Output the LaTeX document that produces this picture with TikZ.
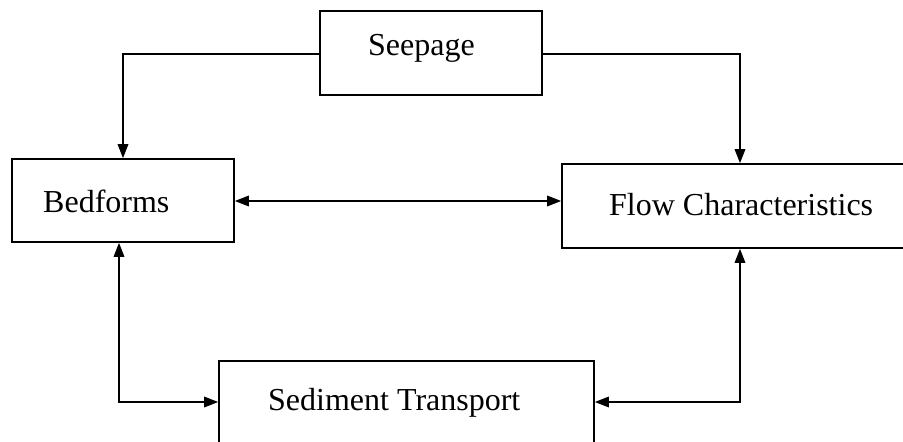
\documentclass[tikz,border=0pt]{standalone}
\usepackage{fontspec}
\setmainfont{Liberation Serif}
\usetikzlibrary{arrows.meta}
\begin{document}
\begin{tikzpicture}[x=1pt,y=-1pt,
  box/.style={draw=black,line width=1.6pt,rectangle,inner sep=0pt},
  lbl/.style={anchor=base west,inner sep=0pt,font=\fontsize{32}{38}\selectfont},
  conn/.style={line width=1.6pt},
  arr/.style={conn,-{Triangle[length=14pt,width=10.5pt]}},
  darr/.style={conn,{Triangle[length=14pt,width=10.5pt]}-{Triangle[length=14pt,width=10.5pt]}}]
\useasboundingbox (0,0) rectangle (903,442);
\clip (0,0) rectangle (903,442);
\fill[white] (0,0) rectangle (903,442);
% boxes
\node[box,minimum width=222pt,minimum height=84pt] (seep) at (431,53) {};
\node[box,minimum width=222pt,minimum height=83pt] (bed) at (123,200.5) {};
\node[box,minimum width=356pt,minimum height=84pt] (flow) at (740,206) {};
\node[box,minimum width=375pt,minimum height=82pt] (sed) at (406.5,402) {};
% texts
\node[lbl] (tseep) at (368,55) {Seepage};
\node[lbl] (tbed) at (43,212) {Bedforms};
\node[lbl] (tflow) at (609,215) {Flow Characteristics};
\node[lbl] (tsed) at (268,410) {Sediment Transport};
% connectors
\coordinate (bedbot) at ([xshift=-4pt]bed.south);
\draw[arr] ([yshift=-1pt]seep.west) -| (bed.north);
\draw[arr] ([yshift=-1pt]seep.east) -| (flow.north);
\draw[darr] ([yshift=-0.5pt]bed.east) -- ([yshift=-0.5pt]bed.east -| flow.west);
\draw[darr] (bedbot) |- (sed.west);
\draw[darr] (flow.south) |- (sed.east);
\end{tikzpicture}
\end{document}
